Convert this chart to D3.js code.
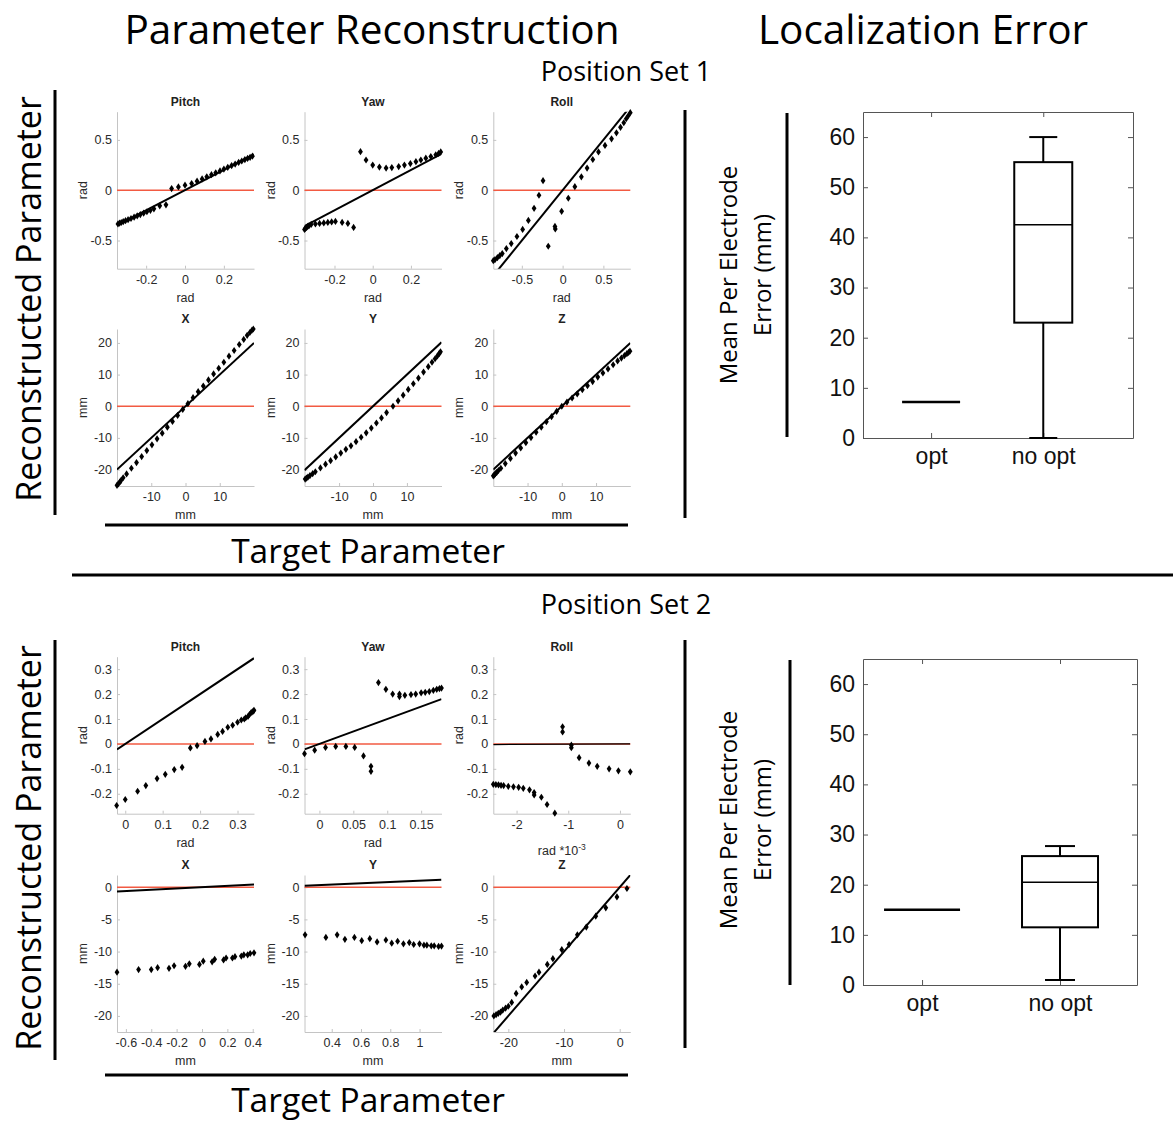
<!DOCTYPE html>
<html><head>
<meta charset="utf-8">
<title>Parameter Reconstruction</title>
<script src="https://d3js.org/d3.v7.min.js"></script>
<style>
  body { margin: 0; background: #fff; }
  text { font-family: "Liberation Sans", Arial, sans-serif; }
  .big { font-family: "Open Sans", sans-serif; fill: #000; }
</style>
</head>
<body>
<svg id="fig" width="1173" height="1123"></svg>
<script>

// ---- values ----

// Position set 1
let s1PitchX = [-0.345,-0.337,-0.328,-0.318,-0.306,-0.293,-0.278,-0.262,-0.246,-0.23,-0.213,-0.196,-0.178,-0.16,-0.13,-0.098,
                -0.069,-0.034,0,0.034,0.062,0.088,0.112,0.136,0.158,0.18,0.2,0.22,0.24,0.258,0.276,0.292,0.308,0.322,0.335,0.347];
let s1PitchY = [-0.335,-0.328,-0.321,-0.313,-0.303,-0.293,-0.281,-0.268,-0.255,-0.242,-0.228,-0.214,-0.2,-0.185,-0.155,-0.145,
                0.016,0.033,0.05,0.066,0.09,0.112,0.133,0.154,0.173,0.192,0.21,0.227,0.245,0.26,0.276,0.29,0.304,0.316,0.327,0.338];

let s1YawX = [-0.357,-0.352,-0.346,-0.34,-0.333,-0.322,-0.3,-0.278,-0.256,-0.235,-0.215,-0.195,-0.16,-0.13,-0.1,
              -0.064,-0.035,0,0.035,0.07,0.1,0.136,0.166,0.197,0.226,0.252,0.278,0.304,0.33,0.345,0.356];
let s1YawY = [-0.39,-0.38,-0.37,-0.36,-0.352,-0.34,-0.335,-0.33,-0.325,-0.32,-0.315,-0.31,-0.32,-0.33,-0.37,
              0.383,0.3,0.25,0.23,0.22,0.225,0.235,0.25,0.265,0.283,0.3,0.318,0.335,0.352,0.365,0.38];

let s1RollX = [-0.85,-0.83,-0.8,-0.77,-0.74,-0.69,-0.63,-0.56,-0.49,-0.42,-0.35,-0.29,-0.24,
               -0.176,-0.094,-0.09,-0.012,0.07,0.15,0.23,0.3,0.37,0.44,0.52,0.6,0.66,0.71,0.75,0.78,0.805,0.83];
let s1RollY = [-0.70,-0.69,-0.67,-0.65,-0.63,-0.58,-0.53,-0.46,-0.39,-0.3,-0.18,-0.05,0.095,
               -0.557,-0.36,-0.385,-0.21,-0.08,0.035,0.133,0.22,0.305,0.38,0.445,0.51,0.57,0.625,0.67,0.71,0.74,0.77];

let s1XX = [-20,-19.6,-19.2,-18.8,-18.2,-17.2,-15.8,-14.3,-12.8,-11.3,-9.8,-8.3,-6.8,-5.3,-3.8,-2.3,-0.8,
            0.7,2.2,3.7,5.2,6.7,8.2,9.7,11.2,12.7,14.2,15.7,17.0,18.0,18.8,19.4,19.8];
let s1XY = [-25.0,-24.5,-24.0,-23.4,-22.6,-21.4,-19.6,-17.8,-15.9,-14.0,-12.2,-10.3,-8.5,-6.6,-4.8,-2.9,-1.0,
            0.8,2.7,4.6,6.4,8.3,10.2,12.0,13.9,15.8,17.6,19.5,21.1,22.4,23.3,24.0,24.4];

let s1YX = [-20,-19.6,-19.2,-18.6,-17.8,-17,-15.5,-14,-12.5,-11,-9.5,-8,-6.5,-5,-3.5,-2,-0.5,
            1,2.5,4,5.9,7.4,8.9,10.4,11.9,13.4,14.9,16.3,17.4,18.3,19,19.5,19.9];
let s1YY = [-23.0,-22.7,-22.4,-21.9,-21.3,-20.7,-19.5,-18.3,-17.2,-16.0,-14.8,-13.6,-12.5,-11.2,-9.8,-8.4,-6.9,
            -5.3,-3.7,-2.0,0,1.7,3.5,5.3,7.1,8.9,10.8,12.5,13.9,15.0,15.9,16.6,17.2];

let s1ZX = [-20,-19.7,-19.4,-19,-18.5,-17.8,-16.5,-15,-13.5,-12,-10.5,-9,-7.5,-6,-4.5,-3,-1.5,
            0,1.5,3,4.5,6,7.5,9,10.5,12,13.5,15,16.3,17.4,18.3,19,19.5,19.9];
let s1ZY = [-22.0,-21.7,-21.3,-20.9,-20.3,-19.6,-18.1,-16.5,-14.8,-13.2,-11.5,-9.9,-8.2,-6.6,-4.9,-3.3,-1.6,
            0,1.3,2.6,3.9,5.2,6.5,7.8,9.2,10.5,11.8,13.1,14.3,15.2,16.0,16.6,17.0,17.4];

// Position set 2
let s2PitchX = [-0.023,0,0.033,0.055,0.085,0.107,0.131,0.152,0.174,0.192,0.213,0.229,0.247,0.26,0.274,0.287,0.3,0.31,0.318,0.322,0.328,0.332,0.336,0.339,0.342,0.344];
let s2PitchY = [-0.247,-0.223,-0.19,-0.167,-0.139,-0.122,-0.103,-0.094,-0.016,-0.007,0.01,0.02,0.038,0.05,0.067,0.075,0.087,0.096,0.1,0.105,0.11,0.118,0.125,0.128,0.132,0.135];

let s2YawX = [-0.022,-0.007,0.009,0.024,0.039,0.052,0.065,0.076,0.076,
              0.087,0.098,0.108,0.118,0.118,0.126,0.135,0.142,0.15,0.156,0.162,0.168,0.173,0.177,0.18];
let s2YawY = [-0.039,-0.025,-0.014,-0.01,-0.01,-0.014,-0.048,-0.09,-0.11,
              0.246,0.219,0.2,0.2,0.19,0.195,0.198,0.2,0.205,0.207,0.21,0.215,0.219,0.222,0.224];

// roll x in rad *10^-3
let s2RollX = [-2.45,-2.4,-2.35,-2.3,-2.25,-2.16,-2.06,-1.96,-1.87,-1.75,-1.66,-1.66,-1.52,-1.41,-1.26,
               -1.11,-1.11,-0.94,-0.94,-0.79,-0.6,-0.44,-0.21,-0.03,0.2];
let s2RollY = [-0.162,-0.163,-0.164,-0.166,-0.167,-0.17,-0.172,-0.174,-0.178,-0.184,-0.195,-0.205,-0.214,-0.243,-0.278,
               0.069,0.048,-0.005,-0.015,-0.055,-0.077,-0.09,-0.1,-0.108,-0.112];

let s2XX = [-0.67,-0.5,-0.4,-0.35,-0.26,-0.22,-0.13,-0.1,-0.02,0.01,0.08,0.1,0.17,0.19,0.24,0.26,0.31,0.33,0.36,0.38,0.41];
let s2XY = [-13.2,-12.8,-12.8,-12.5,-12.6,-12.2,-12.3,-11.9,-12.0,-11.5,-11.6,-11.2,-11.3,-11.0,-11.0,-10.8,-10.7,-10.5,-10.5,-10.3,-10.2];

let s2YX = [0.218,0.36,0.437,0.49,0.555,0.605,0.66,0.71,0.77,0.81,0.85,0.89,0.93,0.96,1.0,1.03,1.05,1.08,1.1,1.13,1.15];
let s2YY = [-7.4,-7.8,-7.4,-8.1,-7.8,-8.3,-8.0,-8.5,-8.2,-8.7,-8.4,-8.8,-8.6,-8.9,-8.8,-9.0,-9.0,-9.1,-9.1,-9.2,-9.15];

let s2ZX = [-22.6,-22.2,-21.8,-21.4,-21.0,-20.5,-20.0,-19.4,-18.6,-17.6,-16.7,-15.2,-14.5,-13.0,-12.0,-10.4,-9.1,-7.6,-6.0,-4.3,-2.5,-0.5,1.3];
let s2ZY = [-20.0,-19.8,-19.6,-19.4,-19.1,-18.8,-18.5,-17.9,-16.5,-15.5,-14.8,-13.8,-13.2,-12.0,-11.1,-9.7,-8.9,-7.4,-6.2,-4.5,-3.2,-1.5,-0.2];

// tick labels
let ticksRad1 = [-0.2, 0, 0.2];
let ticksRadY1 = [-0.5, 0, 0.5];
let ticksRoll1 = [-0.5, 0, 0.5];
let ticksMm1 = [-10, 0, 10];
let ticksMmY1 = [-20, -10, 0, 10, 20];
let ticksPitch2 = [0, 0.1, 0.2, 0.3];
let ticksYaw2 = [0, 0.05, 0.1, 0.15];
let ticksRoll2 = [-2, -1, 0];
let ticksRadY2 = [-0.2, -0.1, 0, 0.1, 0.2, 0.3];
let ticksX2 = [-0.6, -0.4, -0.2, 0, 0.2, 0.4];
let ticksY2 = [0.4, 0.6, 0.8, 1];
let ticksZ2 = [-20, -10, 0];
let ticksMmY2 = [-20, -15, -10, -5, 0];

// localization error box plots
let boxCategories = ["opt", "no opt"];
let boxTicks = [0, 10, 20, 30, 40, 50, 60];
let set1BoxMin = [7.2, 0];
let set1BoxQ1  = [7.2, 23];
let set1BoxMed = [7.2, 42.5];
let set1BoxQ3  = [7.2, 55];
let set1BoxMax = [7.2, 60];
let set2BoxMin = [15, 1];
let set2BoxQ1  = [15, 11.5];
let set2BoxMed = [15, 20.5];
let set2BoxQ3  = [15, 25.7];
let set2BoxMax = [15, 27.7];

// ---- layout ----
let colLeft = [117, 304.5, 493.3];
let panelW = 137, panelH = 157;
let rowTop = [[111.7, 329], [656.7, 875]];

let panels = [
  {set:0,row:0,col:0,title:"Pitch",unit:"rad",xs:s1PitchX,ys:s1PitchY,xDom:[-0.35,0.355],yDom:[-0.78,0.78],xTicks:ticksRad1,yTicks:ticksRadY1,k:1},
  {set:0,row:0,col:1,title:"Yaw",unit:"rad",xs:s1YawX,ys:s1YawY,xDom:[-0.357,0.36],yDom:[-0.78,0.78],xTicks:ticksRad1,yTicks:ticksRadY1,k:1},
  {set:0,row:0,col:2,title:"Roll",unit:"rad",xs:s1RollX,ys:s1RollY,xDom:[-0.85,0.83],yDom:[-0.78,0.78],xTicks:ticksRoll1,yTicks:ticksRadY1,k:1},
  {set:0,row:1,col:0,title:"X",unit:"mm",xs:s1XX,ys:s1XY,xDom:[-20,20],yDom:[-25.2,24.4],xTicks:ticksMm1,yTicks:ticksMmY1,k:1},
  {set:0,row:1,col:1,title:"Y",unit:"mm",xs:s1YX,ys:s1YY,xDom:[-20.2,20.2],yDom:[-25.2,24.4],xTicks:ticksMm1,yTicks:ticksMmY1,k:1},
  {set:0,row:1,col:2,title:"Z",unit:"mm",xs:s1ZX,ys:s1ZY,xDom:[-20,20],yDom:[-25.2,24.4],xTicks:ticksMm1,yTicks:ticksMmY1,k:1},
  {set:1,row:0,col:0,title:"Pitch",unit:"rad",xs:s2PitchX,ys:s2PitchY,xDom:[-0.022,0.344],yDom:[-0.28,0.35],xTicks:ticksPitch2,yTicks:ticksRadY2,k:1},
  {set:1,row:0,col:1,title:"Yaw",unit:"rad",xs:s2YawX,ys:s2YawY,xDom:[-0.022,0.18],yDom:[-0.28,0.35],xTicks:ticksYaw2,yTicks:ticksRadY2,k:1},
  {set:1,row:0,col:2,title:"Roll",unit:"rad *10",sup:"-3",xs:s2RollX,ys:s2RollY,xDom:[-2.45,0.2],yDom:[-0.28,0.35],xTicks:ticksRoll2,yTicks:ticksRadY2,k:0.001,ylab:"rad"},
  {set:1,row:1,col:0,title:"X",unit:"mm",xs:s2XX,ys:s2XY,xDom:[-0.67,0.41],yDom:[-22.5,1.9],xTicks:ticksX2,yTicks:ticksMmY2,k:1},
  {set:1,row:1,col:1,title:"Y",unit:"mm",xs:s2YX,ys:s2YY,xDom:[0.214,1.15],yDom:[-22.5,1.9],xTicks:ticksY2,yTicks:ticksMmY2,k:1},
  {set:1,row:1,col:2,title:"Z",unit:"mm",xs:s2ZX,ys:s2ZY,xDom:[-22.7,1.9],yDom:[-22.5,1.9],xTicks:ticksZ2,yTicks:ticksMmY2,k:1}
];

let svg = d3.select("#fig");
let fmt = d => String(d);
let axisGray = "#c4c4c4";
let zeroRed = "#f25a42";
let diamond = "M0,-3.6L2.4,0L0,3.6L-2.4,0Z";

panels.forEach(function(p, i) {
  let left = colLeft[p.col], top = rowTop[p.set][p.row];
  let x = d3.scaleLinear().domain(p.xDom).range([left, left + panelW]);
  let y = d3.scaleLinear().domain(p.yDom).range([top + panelH, top]);
  let g = svg.append("g");

  g.append("clipPath").attr("id", "clip" + i)
    .append("rect").attr("x", left).attr("y", top).attr("width", panelW).attr("height", panelH);

  let ax = g.append("g").attr("transform", `translate(0,${top + panelH})`)
    .call(d3.axisBottom(x).tickValues(p.xTicks).tickFormat(fmt).tickSize(-3).tickSizeOuter(0).tickPadding(6));
  let ay = g.append("g").attr("transform", `translate(${left},0)`)
    .call(d3.axisLeft(y).tickValues(p.yTicks).tickFormat(fmt).tickSize(-3).tickSizeOuter(0).tickPadding(5));
  [ax, ay].forEach(a => {
    a.select(".domain").attr("stroke", axisGray);
    a.selectAll(".tick line").attr("stroke", axisGray);
    a.selectAll(".tick text").attr("fill", "#2a2a2a").style("font-size", "12.5px")
      .style("font-family", "'Liberation Sans', Arial, sans-serif");
  });

  // zero line, then target = reconstructed line
  g.append("line")
    .attr("x1", left).attr("x2", left + panelW).attr("y1", y(0)).attr("y2", y(0))
    .attr("stroke", zeroRed).attr("stroke-width", 1.5);
  g.append("line").attr("clip-path", `url(#clip${i})`)
    .attr("x1", x(p.xDom[0])).attr("y1", y(p.xDom[0] * p.k))
    .attr("x2", x(p.xDom[1])).attr("y2", y(p.xDom[1] * p.k))
    .attr("stroke", "#000").attr("stroke-width", p.k === 1 ? 2 : 1.3);

  g.selectAll("path.pt").data(d3.zip(p.xs, p.ys)).join("path")
    .attr("class", "pt").attr("d", diamond)
    .attr("transform", d => `translate(${x(d[0])},${y(d[1])})`)
    .attr("fill", "#000");

  let cx = left + panelW / 2;
  g.append("text").attr("x", cx).attr("y", top - 6).attr("text-anchor", "middle")
    .style("font-size", "12px").style("font-weight", "bold").attr("fill", "#222").text(p.title);

  let xl = g.append("text").attr("x", cx).attr("y", top + panelH + (p.sup ? 41 : 33))
    .attr("text-anchor", "middle").style("font-size", "12.5px").attr("fill", "#2a2a2a").text(p.unit);
  if (p.sup) xl.append("tspan").attr("dy", -5).style("font-size", "8.5px").text(p.sup);

  g.append("text").attr("transform", `translate(${left - 30},${top + panelH / 2}) rotate(-90)`)
    .attr("text-anchor", "middle").style("font-size", "12.5px").attr("fill", "#2a2a2a")
    .text(p.ylab || p.unit);
});

// ---- box plots ----
let boxes = [
  {top:112, bottom:438, left:863, right:1133, xDom:[0.393,2.8], boxW:58, capW:28,
   min:set1BoxMin, q1:set1BoxQ1, med:set1BoxMed, q3:set1BoxQ3, max:set1BoxMax},
  {top:659, bottom:985, left:863, right:1137, xDom:[0.572,2.558], boxW:76, capW:30,
   min:set2BoxMin, q1:set2BoxQ1, med:set2BoxMed, q3:set2BoxQ3, max:set2BoxMax}
];

boxes.forEach(function(b) {
  let y = d3.scaleLinear().domain([0, 65]).range([b.bottom, b.top]);
  let x = d3.scaleLinear().domain(b.xDom).range([b.left, b.right]);
  let g = svg.append("g");

  let frame = [
    g.append("g").attr("transform", `translate(${b.left},0)`)
      .call(d3.axisLeft(y).tickValues(boxTicks).tickSize(-5).tickSizeOuter(0).tickPadding(8)),
    g.append("g").attr("transform", `translate(${b.right},0)`)
      .call(d3.axisRight(y).tickValues(boxTicks).tickSize(-5).tickSizeOuter(0).tickFormat("")),
    g.append("g").attr("transform", `translate(0,${b.bottom})`)
      .call(d3.axisBottom(x).tickValues([1, 2]).tickFormat((d, i) => boxCategories[i]).tickSize(-5).tickSizeOuter(0).tickPadding(10)),
    g.append("g").attr("transform", `translate(0,${b.top})`)
      .call(d3.axisTop(x).tickValues([1, 2]).tickFormat("").tickSize(-5).tickSizeOuter(0))
  ];
  frame.forEach(a => {
    a.select(".domain").attr("stroke", "#555");
    a.selectAll(".tick line").attr("stroke", "#555");
    a.selectAll(".tick text").attr("fill", "#111").style("font-size", "23px")
      .style("font-family", "'Liberation Sans', Arial, sans-serif");
  });

  boxCategories.forEach(function(c, i) {
    let xc = x(i + 1);
    let bg = g.append("g").attr("stroke", "#000").attr("stroke-width", 2).attr("fill", "none");
    bg.append("line").attr("x1", xc).attr("x2", xc).attr("y1", y(b.min[i])).attr("y2", y(b.q1[i]));
    bg.append("line").attr("x1", xc).attr("x2", xc).attr("y1", y(b.q3[i])).attr("y2", y(b.max[i]));
    if (b.max[i] > b.q3[i]) {
      bg.append("line").attr("x1", xc - b.capW / 2).attr("x2", xc + b.capW / 2).attr("y1", y(b.max[i])).attr("y2", y(b.max[i]));
      bg.append("line").attr("x1", xc - b.capW / 2).attr("x2", xc + b.capW / 2).attr("y1", y(b.min[i])).attr("y2", y(b.min[i]));
    }
    bg.append("rect").attr("x", xc - b.boxW / 2).attr("width", b.boxW)
      .attr("y", y(b.q3[i])).attr("height", y(b.q1[i]) - y(b.q3[i]));
    bg.append("line").attr("x1", xc - b.boxW / 2).attr("x2", xc + b.boxW / 2)
      .attr("y1", y(b.med[i])).attr("y2", y(b.med[i])).attr("stroke-width", b.q3[i] > b.q1[i] ? 1.5 : 2.5);
  });
});

// ---- figure annotations ----
function bigText(x, y, size, str, rot) {
  let t = svg.append("text").attr("class", "big").attr("text-anchor", "middle")
    .style("font-size", size + "px").text(str);
  if (rot) t.attr("transform", `translate(${x},${y}) rotate(-90)`);
  else t.attr("x", x).attr("y", y);
  return t;
}
bigText(372, 44, 40.5, "Parameter Reconstruction");
bigText(923, 44, 40.5, "Localization Error");
bigText(626, 81, 27, "Position Set 1");
bigText(626, 614, 27, "Position Set 2");
bigText(41, 299, 34, "Reconstructed Parameter", true);
bigText(41, 848, 34, "Reconstructed Parameter", true);
bigText(368, 563, 33.5, "Target Parameter");
bigText(368, 1112, 33.5, "Target Parameter");
bigText(737, 275, 24, "Mean Per Electrode", true);
bigText(771, 275, 24, "Error (mm)", true);
bigText(737, 820, 24, "Mean Per Electrode", true);
bigText(771, 820, 24, "Error (mm)", true);

let rules = [
  [55, 90, 55, 515], [55, 640, 55, 1060],
  [685, 110, 685, 518], [685, 640, 685, 1048],
  [787, 113, 787, 437], [790, 660, 790, 985],
  [105, 525, 628, 525], [105, 1075, 628, 1075],
  [72, 575, 1173, 575]
];
svg.selectAll("line.rule").data(rules).join("line").attr("class", "rule")
  .attr("x1", d => d[0]).attr("y1", d => d[1]).attr("x2", d => d[2]).attr("y2", d => d[3])
  .attr("stroke", "#000").attr("stroke-width", 3);

</script>
</body>
</html>
